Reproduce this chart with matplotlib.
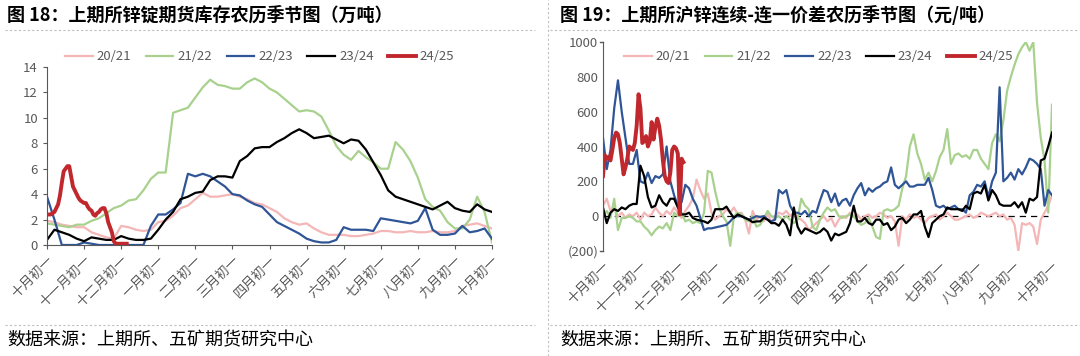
import numpy as np
import matplotlib.pyplot as plt
from matplotlib.lines import Line2D

plt.rcParams['font.family'] = ['Noto Sans CJK SC', 'DejaVu Sans']

# x axis: lunar months from 十月初一 (0) to next 十月初一 (12)
month_labels = ["十月初一", "十一月初一", "十二月初一", "一月初一", "二月初一", "三月初一",
                "四月初一", "五月初一", "六月初一", "七月初一", "八月初一", "九月初一", "十月初一"]
seasons = ["20/21", "21/22", "22/23", "23/24", "24/25"]
colors = ["#F4B6B6", "#A9D18E", "#2F5597", "#000000", "#C0282D"]
widths = [1.6, 1.6, 1.6, 1.6, 2.8]

# ---- left chart: SHFE zinc warrant stocks (10k t), one value per 0.2 month ----
stock_2021 = [1.9, 1.8, 1.6, 1.5, 1.4, 1.4, 1.0, 0.8, 0.6, 0.5, 1.5, 1.4, 1.2, 1.1, 1.2, 1.8,
              1.9, 2.3, 2.9, 3.1, 3.6, 4.1, 3.8, 3.8, 3.9, 4.0, 3.8, 3.6, 3.3, 3.2, 2.9, 2.6,
              2.1, 1.8, 1.6, 1.7, 1.3, 1.0, 0.8, 0.8, 0.8, 0.7, 0.7, 0.8, 0.9, 1.1, 1.1, 1.0,
              1.0, 1.1, 1.0, 1.0, 1.1, 1.0, 1.0, 1.1, 1.5, 1.6, 1.7, 1.5, 1.3]
stock_2122 = [1.7, 1.6, 1.5, 1.4, 1.6, 1.6, 1.9, 2.1, 2.5, 2.9, 3.1, 3.5, 3.6, 4.3, 5.2, 5.7,
              5.7, 10.4, 10.6, 10.8, 11.6, 12.4, 13.0, 12.6, 12.5, 12.3, 12.3, 12.8, 13.1, 12.8,
              12.3, 12.0, 11.5, 11.0, 10.5, 10.6, 10.5, 10.1, 9.0, 7.8, 7.1, 6.7, 7.4, 6.9,
              6.5, 6.0, 6.0, 8.1, 7.5, 6.6, 5.3, 3.6, 3.0, 2.7, 1.8, 1.3, 1.3, 2.0, 3.8, 2.6, 0.2]
stock_2223 = [3.8, 2.0, 0.0, 0.0, 0.0, 0.2, 0.1, 0.0, 0.0, 0.0, 0.0, 0.0, 0.0, 0.0, 1.5, 2.4,
              2.4, 2.8, 3.3, 5.6, 5.4, 5.6, 5.4, 5.0, 4.6, 4.0, 3.9, 3.5, 3.2, 3.0, 2.4, 1.8,
              1.5, 1.2, 0.9, 0.5, 0.3, 0.2, 0.2, 0.4, 1.4, 1.2, 1.2, 1.2, 1.1, 2.1, 2.0, 1.9,
              1.8, 1.7, 1.9, 2.9, 1.2, 0.8, 0.8, 0.9, 1.5, 1.0, 1.1, 1.3, 0.5]
stock_2324 = [0.4, 1.2, 1.0, 0.8, 0.5, 0.3, 0.6, 0.5, 0.4, 0.4, 0.7, 0.5, 0.4, 0.4, 0.5, 1.2,
              2.0, 2.6, 3.6, 3.8, 4.1, 4.2, 5.1, 5.4, 5.4, 5.3, 6.6, 7.0, 7.6, 7.7, 7.7, 8.1,
              8.4, 8.8, 9.1, 8.8, 8.4, 8.5, 8.6, 8.3, 8.0, 8.3, 8.2, 7.5, 6.5, 5.5, 4.3, 3.8,
              3.6, 3.4, 3.2, 3.0, 2.8, 3.1, 3.4, 2.9, 2.7, 2.6, 3.2, 2.8, 2.6]
# 24/25 every 0.05 month
stock_2425 = [2.4, 2.4, 2.4, 2.5, 2.6, 2.9, 3.2, 3.9, 4.9, 5.8, 6.0, 6.2, 6.2, 5.4, 4.6, 4.3,
              4.0, 3.7, 3.5, 3.4, 3.3, 3.3, 3.0, 2.8, 2.7, 2.4, 2.3, 2.5, 2.6, 2.8, 2.9, 2.9,
              2.5, 1.8, 1.4, 1.0, 0.3, 0.1, 0.1, 0.1, 0.1, 0.1, 0.1, 0.1]

# ---- right chart: continuous minus 1st-month spread (yuan/t), one value per 0.1 month ----
spread_2021 = [60, 100, 30, 50, 0, 20, -10, 10, 0, 20, -20, 20, 0, 10, 50, 20, 0, 30, 10, 50,
               20, -10, 30, 60, 100, 210, 150, 100, 130, 20, -20, 0, 10, 40, 20, 50, 10, 20, -20,
               -100, 30, -20, 0, -30, 20, -40, 0, 20, 10, 30, 0, 20, -10, -20, -40, -80, -60,
               -40, -20, 0, -30, -10, -60, -20, 0, -10, 20, 0, 10, -20, 0, 10, -10, 0, 20, 10,
               -10, 0, -30, -170, 0, -20, 10, -10, 0, -20, -40, -10, 0, 10, -20, 0, 20, 0, -20,
               -20, -10, 0, 10, -10, 0, 20, 10, 0, 10, 20, 0, 10, -20, -10, -50, -200, -40, -50,
               -40, -60, -160, -20, 20, 60, 120]
spread_2122 = [0, 30, -10, 100, -80, -10, -10, 0, -10, -30, -30, -60, -80, -110, -80, -60, -70,
               -40, -80, 20, 0, 20, -30, -20, -40, -30, -40, 20, 260, 250, 140, 50, 0, -30,
               -170, 0, 20, 10, -20, -30, 0, -60, -50, -10, 30, 0, -10, 0, -20, 0, -20, -40,
               -20, 100, 60, 40, -60, -80, -20, 20, 50, 30, 40, 0, -10, 0, 10, 0, -30, -50, -40,
               -10, -60, -120, -130, 30, 40, 30, 40, 60, 160, 230, 400, 470, 360, 300, 210, 250,
               200, 260, 340, 380, 500, 300, 350, 360, 340, 350, 330, 380, 380, 330, 300, 270,
               420, 470, 430, 550, 720, 800, 870, 930, 970, 1000, 950, 1000, 650, 450, 320, 20,
               640]
spread_2223 = [450, 270, 380, 620, 780, 600, 450, 300, 300, 380, 200, 190, 250, 190, 230, 220,
               240, 400, 200, 120, 60, 80, 180, 160, 100, 60, -10, -80, -70, -70, -65, -60, -55,
               -50, -30, -5, 0, 0, -10, -20, -10, 0, -5, 0, -20, -30, -20, 150, 130, 150, 60, 20,
               20, 10, 30, 0, 30, 20, 90, 150, 140, 80, 130, 60, 90, 100, 60, 120, 160, 190, 120,
               160, 140, 160, 170, 190, 200, 280, 180, 160, 180, 200, 170, 170, 180, 180, 180, 220,
               150, 60, 50, 60, 40, 50, 60, 40, 40, 20, 120, 140, 180, 170, 200, 110, 200, 250,
               740, 200, 220, 250, 210, 270, 240, 280, 330, 320, 300, 270, 60, 150, 120]
spread_2324 = [50, -40, 20, 40, 30, 50, 40, 60, 70, 70, 290, 230, 110, 50, 60, 120, 80, 60, 100,
               100, 50, 10, 10, 20, -10, -20, -25, -30, -40, -20, 40, 40, 40, 55, 20, -10, 10, 0,
               -10, -20, -35, -30, -30, -10, -20, -40, -40, -55, -20, -50, -110, 50, -60, -100,
               -70, -80, -90, -100, -90, -70, -90, -140, -100, -110, -100, -90, -40, 60, -30, -30,
               -10, -40, -50, -20, -20, -50, -40, -80, -60, -20, -10, -40, -20, 10, 10, 30, -60,
               -120, -40, -20, 0, 10, 50, 40, 40, 40, 30, 60, 40, 130, 140, 130, 180, 90, 150, 120,
               70, 60, 60, 60, 80, 50, 80, 20, 100, 90, 110, 320, 330, 400, 480]
# 24/25 every 0.05 month
spread_2425 = [230, 350, 330, 340, 320, 380, 450, 480, 470, 420, 330, 240, 280, 330, 400, 390,
               380, 420, 520, 700, 620, 420, 430, 460, 400, 430, 540, 440, 510, 560, 520, 440,
               320, 230, 200, 190, 250, 380, 400, 390, 360, 10, 330, 310]

left_series = [(stock_2021, 0.2), (stock_2122, 0.2), (stock_2223, 0.2), (stock_2324, 0.2),
               (stock_2425, 0.05)]
right_series = [(spread_2021, 0.1), (spread_2122, 0.1), (spread_2223, 0.1), (spread_2324, 0.1),
                (spread_2425, 0.05)]

GRAY = "#595959"

fig = plt.figure(figsize=(10.8, 3.56), dpi=100)


def style_axes(ax):
    for s in ["top", "right"]:
        ax.spines[s].set_visible(False)
    ax.spines["left"].set_color(GRAY)
    ax.spines["bottom"].set_color(GRAY)
    ax.set_xlim(0, 12)
    ax.set_xticks(range(13))
    ax.set_xticklabels(month_labels, rotation=45, ha="right", va="top",
                       rotation_mode="anchor", fontsize=9.5, color=GRAY)
    ax.tick_params(axis="x", length=3, color=GRAY, pad=3)
    ax.tick_params(axis="y", length=3, color=GRAY, labelsize=9.5, labelcolor=GRAY)


def add_legend(ax, x, y):
    handles = [Line2D([], [], color=c, lw=w) for c, w in zip(colors, widths)]
    ax.legend(handles, seasons, loc="center", bbox_to_anchor=(x, y), ncol=5, frameon=False,
              fontsize=9.5, handlelength=2.1, columnspacing=1.1, handletextpad=0.3,
              labelcolor=GRAY)


# left panel
ax1 = fig.add_axes([47 / 1080, 1 - 245 / 356, 445 / 1080, 178 / 356])
for (vals, step), c, w in zip(left_series, colors, widths):
    x = np.arange(len(vals)) * step
    ax1.plot(x, vals, color=c, lw=w)
ax1.set_ylim(0, 14)
ax1.set_yticks(range(0, 15, 2))
style_axes(ax1)
add_legend(ax1, 0.478, 1.058)

# right panel
ax2 = fig.add_axes([603 / 1080, 1 - 251 / 356, 449 / 1080, 209 / 356])
for (vals, step), c, w in zip(right_series, colors, widths):
    x = np.arange(len(vals)) * step
    ax2.plot(x, vals, color=c, lw=w, clip_on=True)
ax2.axhline(0, color="black", lw=0.9, ls=(0, (5, 4)), zorder=0)
ax2.set_ylim(-200, 1000)
ax2.set_yticks(range(-200, 1001, 200))
ax2.set_yticklabels(["(200)", "0", "200", "400", "600", "800", "1000"])
ax2.get_yticklabels()[0].set_color("#FF5B5B")
style_axes(ax2)
ax2.spines["bottom"].set_visible(False)
ax2.tick_params(axis="x", length=0, pad=6)
ax2.tick_params(axis="y", length=0)
for yv in (-200, 1000):
    ax2.plot([-0.09, 0], [yv, yv], color=GRAY, lw=1, clip_on=False)
add_legend(ax2, 0.48, 0.93)

# titles, separators and source notes
fig.text(7 / 1080, 1 - 15 / 356, "图 18：上期所锌锭期货库存农历季节图（万吨）",
         fontsize=13, fontweight="bold", va="center", ha="left")
fig.text(560 / 1080, 1 - 15 / 356, "图 19：上期所沪锌连续-连一价差农历季节图（元/吨）",
         fontsize=13, fontweight="bold", va="center", ha="left")
fig.text(7 / 1080, 1 - 340 / 356, "数据来源：上期所、五矿期货研究中心",
         fontsize=13, va="center", ha="left")
fig.text(560 / 1080, 1 - 340 / 356, "数据来源：上期所、五矿期货研究中心",
         fontsize=13, va="center", ha="left")
for y in (30, 325):
    fig.add_artist(Line2D([5 / 1080, 535 / 1080], [1 - y / 356] * 2, color="#BFBFBF",
                          lw=0.8, ls=(0, (2, 2))))
    fig.add_artist(Line2D([550 / 1080, 1078 / 1080], [1 - y / 356] * 2, color="#BFBFBF",
                          lw=0.8, ls=(0, (2, 2))))
fig.add_artist(Line2D([548 / 1080] * 2, [0, 1], color="#BFBFBF", lw=0.8, ls=(0, (2, 2))))

fig.savefig("out.png", dpi=100)
